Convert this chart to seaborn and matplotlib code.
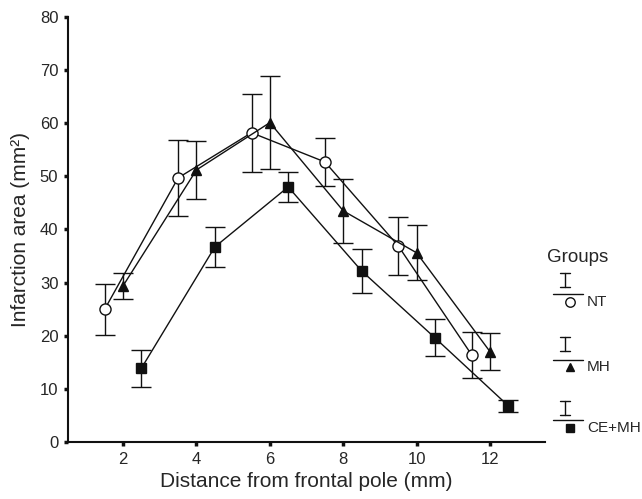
import matplotlib
matplotlib.use("Agg")
import matplotlib.pyplot as plt
import seaborn as sns
import pandas as pd
from matplotlib.lines import Line2D

sns.set_style("ticks")
plt.rcParams['font.family'] = ['Liberation Sans', 'DejaVu Sans']

groups = ["NT", "MH", "CE+MH"]
nt_x = [1.5, 3.5, 5.5, 7.5, 9.5, 11.5]
nt_y = [25.0, 49.7, 58.2, 52.7, 36.9, 16.4]
nt_err = [4.8, 7.2, 7.3, 4.5, 5.5, 4.3]
mh_x = [2, 4, 6, 8, 10, 12]
mh_y = [29.4, 51.2, 60.1, 43.5, 35.6, 17.0]
mh_err = [2.4, 5.5, 8.8, 6.0, 5.2, 3.5]
ce_x = [2.5, 4.5, 6.5, 8.5, 10.5, 12.5]
ce_y = [13.9, 36.7, 48.0, 32.2, 19.6, 6.8]
ce_err = [3.5, 3.7, 2.8, 4.1, 3.5, 1.1]

xticks = [2, 4, 6, 8, 10, 12]
yticks = [0, 10, 20, 30, 40, 50, 60, 70, 80]

df = pd.concat([
    pd.DataFrame({"x": nt_x, "y": nt_y, "err": nt_err, "group": "NT"}),
    pd.DataFrame({"x": mh_x, "y": mh_y, "err": mh_err, "group": "MH"}),
    pd.DataFrame({"x": ce_x, "y": ce_y, "err": ce_err, "group": "CE+MH"}),
])

fig = plt.figure(figsize=(6.42, 4.99), dpi=100)
ax = fig.add_axes([0.106, 0.1142, 0.743, 0.852])

styles = {
    "NT": dict(marker="o", mfc="white", ms=8.0),
    "MH": dict(marker="^", mfc="#111111", ms=7),
    "CE+MH": dict(marker="s", mfc="#111111", ms=6.5),
}

for g in groups:
    d = df[df.group == g]
    ax.errorbar(d.x, d.y, yerr=d.err, fmt="none", ecolor="#111111",
                elinewidth=1.0, capsize=7.5, capthick=1.0, zorder=2)
    sns.lineplot(data=d, x="x", y="y", ax=ax, color="#111111", lw=1.0,
                 marker=styles[g]["marker"], markersize=styles[g]["ms"],
                 markerfacecolor=styles[g]["mfc"], markeredgecolor="#111111",
                 markeredgewidth=1.0, legend=False, zorder=3, sort=False)

ax.set_xlim(0.5, 13.5)
ax.set_ylim(0, 80)
ax.set_xticks(xticks)
ax.set_yticks(yticks)
ax.set_xticklabels([str(t) for t in xticks])
ax.set_yticklabels([str(t) for t in yticks])
ax.tick_params(axis="both", direction="out", length=3, width=2.5, labelsize=12,
               color="#111111", pad=4)
for s in ["top", "right"]:
    ax.spines[s].set_visible(False)
for s in ["left", "bottom"]:
    ax.spines[s].set_linewidth(1.5)
    ax.spines[s].set_color("#111111")
ax.set_xlabel("Distance from frontal pole (mm)", fontsize=15, labelpad=4)
ax.set_ylabel("Infarction area (mm²)", fontsize=15, labelpad=7)

# custom legend
W, H = 642, 499
def fx(px): return px / W
def fy(py): return 1 - py / H

fig.text(fx(578), fy(258), "Groups", fontsize=13.5, ha="center", va="center")
legend_rows = [("NT", 280, 294, 302), ("MH", 344, 360, 367), ("CE+MH", 408, 420, 428)]
for name, bar_c, line_y, mk_y in legend_rows:
    fig.add_artist(Line2D([fx(565), fx(565)], [fy(bar_c - 7), fy(bar_c + 7)], color="#111111", lw=1.0))
    for yy in (bar_c - 7, bar_c + 7):
        fig.add_artist(Line2D([fx(560), fx(570)], [fy(yy), fy(yy)], color="#111111", lw=1.0))
    fig.add_artist(Line2D([fx(553), fx(583)], [fy(line_y), fy(line_y)], color="#111111", lw=1.0))
    st = styles[name]
    fig.add_artist(Line2D([fx(570)], [fy(mk_y)], marker=st["marker"], ms=st["ms"] * 0.85,
                          mfc=st["mfc"], mec="#111111", mew=1.0, ls="none"))
    fig.text(fx(587), fy(mk_y), name, fontsize=11, ha="left", va="center")

fig.savefig("out.png", dpi=100)
